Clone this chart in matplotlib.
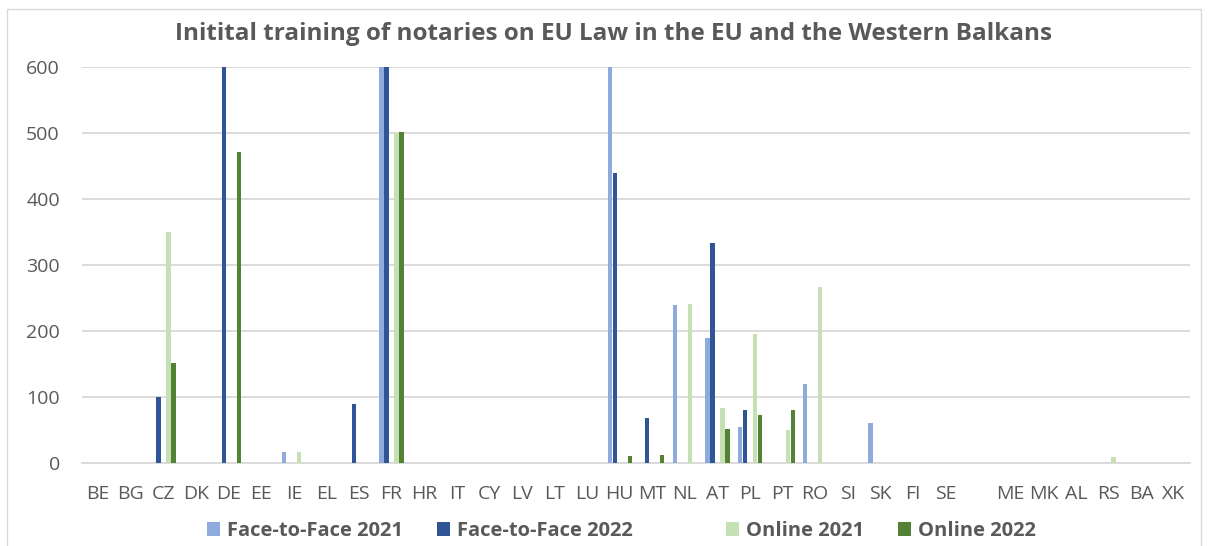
import matplotlib
matplotlib.use("Agg")
import matplotlib.pyplot as plt
from matplotlib.patches import Rectangle
import numpy as np

categories = ["BE", "BG", "CZ", "DK", "DE", "EE", "IE", "EL", "ES", "FR", "HR", "IT",
              "CY", "LV", "LT", "LU", "HU", "MT", "NL", "AT", "PL", "PT", "RO", "SI",
              "SK", "FI", "SE", "", "ME", "MK", "AL", "RS", "BA", "XK"]

f2f_2021 = [0, 0, 0, 0, 0, 0, 16, 0, 0, 650, 0, 0,
            0, 0, 0, 0, 650, 0, 239, 189, 54, 0, 120, 0,
            60, 0, 0, 0, 0, 0, 0, 0, 0, 0]
f2f_2022 = [0, 0, 100, 0, 650, 0, 0, 0, 90, 650, 0, 0,
            0, 0, 0, 0, 440, 68, 0, 334, 80, 0, 0, 0,
            0, 0, 0, 0, 0, 0, 0, 0, 0, 0]
online_2021 = [0, 0, 350, 0, 0, 0, 16, 0, 0, 500, 0, 0,
               0, 0, 0, 0, 0, 0, 241, 83, 195, 50, 266, 0,
               0, 0, 0, 0, 0, 0, 0, 9, 0, 0]
online_2022 = [0, 0, 151, 0, 471, 0, 0, 0, 0, 502, 0, 0,
               0, 0, 0, 0, 10, 12, 0, 52, 72, 80, 0, 0,
               0, 0, 0, 0, 0, 0, 0, 0, 0, 0]

series_names = ["Face-to-Face 2021", "Face-to-Face 2022", "Online 2021", "Online 2022"]
series_values = [f2f_2021, f2f_2022, online_2021, online_2022]
series_colors = ["#8FAADC", "#2F5597", "#C5E0B4", "#548235"]
# slot index within each group of five (slot 2 is an empty series in the original)
series_slots = [0, 1, 3, 4]
yticks = [0, 100, 200, 300, 400, 500, 600]

plt.rcParams['font.family'] = ['Open Sans', 'DejaVu Sans']

fig = plt.figure(figsize=(12.08, 5.46), dpi=100)
fig.patches.append(Rectangle((7/1208, -0.02), (1201 - 7)/1208, 1 - 9/546 + 0.02,
                             transform=fig.transFigure,
                             fill=False, edgecolor="#D9D9D9", linewidth=1.0))
ax = fig.add_axes([82/1208, 1 - 463/546, (1190 - 82)/1208, (463 - 67)/546])

x = np.arange(len(categories))
slot_w = 0.153
bar_w = 0.13
handles = []
for name, vals, col, slot in zip(series_names, series_values, series_colors, series_slots):
    off = (slot - 2) * slot_w
    b = ax.bar(x + off, vals, width=bar_w, color=col, label=name, zorder=3)
    handles.append(b)

ax.set_xlim(-0.5, len(categories) - 0.5)
ax.set_ylim(0, 600)
ax.set_yticks(yticks)
ax.set_yticklabels([str(t) for t in yticks], fontsize=14, color="#595959")
ax.set_xticks(x)
ax.set_xticklabels(categories, fontsize=14, color="#595959")
ax.tick_params(axis='both', length=0)
ax.tick_params(axis='y', pad=16)
ax.tick_params(axis='x', pad=16)
ax.yaxis.grid(True, color="#D9D9D9", linewidth=1.3, zorder=0)
for s in ["top", "right", "left"]:
    ax.spines[s].set_visible(False)
ax.spines["bottom"].set_color("#D9D9D9")
ax.spines["bottom"].set_linewidth(1.3)

fig.text(0.5075, 1 - 40/546, "Initital training of notaries on EU Law in the EU and the Western Balkans",
         ha="center", va="baseline", fontsize=17.5, fontweight="bold", color="#595959")

blank = Rectangle((0, 0), 1, 1, fill=False, edgecolor="none")
leg_handles = [handles[0], handles[1], blank, handles[2], handles[3]]
leg_labels = [series_names[0], series_names[1], " ", series_names[2], series_names[3]]
leg = fig.legend(leg_handles, leg_labels, loc="center", bbox_to_anchor=(0.5145, 1 - 531/546),
                 ncol=5, frameon=False, handlelength=0.65, handleheight=0.65,
                 handletextpad=0.33, columnspacing=1.7, borderpad=0.0,
                 prop={'weight': 'bold', 'size': 14.5})
for t in leg.get_texts():
    t.set_color("#595959")

fig.savefig("out.png", dpi=100)
